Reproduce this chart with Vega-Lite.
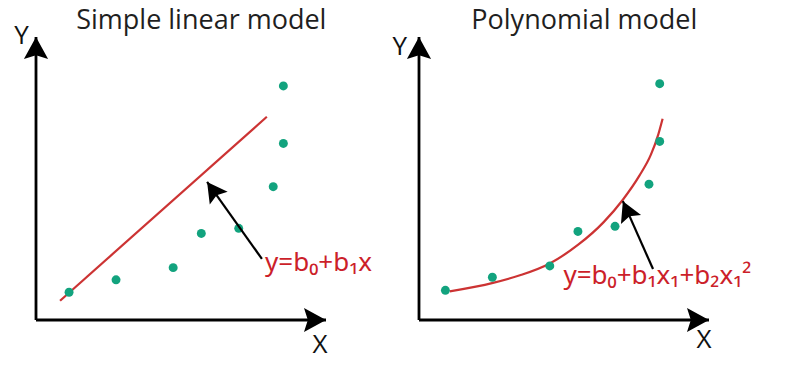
{
  "$schema": "https://vega.github.io/schema/vega-lite/v6.json",
  "padding": 0,
  "background": "white",
  "spacing": 0,
  "config": {"view": {"stroke": null}},
  "data": {
    "values": [
      {"model": "Simple linear model", "kind": "title", "x": 5.7, "y": 10.30},
      {"model": "Simple linear model", "kind": "axis", "part": "y", "x": 0, "y": 0, "x2": 0, "y2": 10},
      {"model": "Simple linear model", "kind": "axis", "part": "x", "x": 0, "y": 0, "x2": 10, "y2": 0},
      {"model": "Simple linear model", "kind": "axis-label", "x": -0.5, "y": 10.04, "label": "Y"},
      {"model": "Simple linear model", "kind": "axis-label", "x": 9.79, "y": -0.88, "label": "X"},
      {"model": "Simple linear model", "kind": "point", "x": 1.14, "y": 0.98},
      {"model": "Simple linear model", "kind": "point", "x": 2.76, "y": 1.42},
      {"model": "Simple linear model", "kind": "point", "x": 4.73, "y": 1.85},
      {"model": "Simple linear model", "kind": "point", "x": 5.70, "y": 3.06},
      {"model": "Simple linear model", "kind": "point", "x": 6.99, "y": 3.24},
      {"model": "Simple linear model", "kind": "point", "x": 8.18, "y": 4.71},
      {"model": "Simple linear model", "kind": "point", "x": 8.53, "y": 6.24},
      {"model": "Simple linear model", "kind": "point", "x": 8.53, "y": 8.27},
      {"model": "Simple linear model", "kind": "fit", "x": 0.83, "y": 0.68},
      {"model": "Simple linear model", "kind": "fit", "x": 7.96, "y": 7.18},
      {"model": "Simple linear model", "kind": "pointer", "x": 7.79, "y": 2.16, "x2": 5.90, "y2": 4.88},
      {"model": "Simple linear model", "kind": "equation", "x": 7.90, "y": 1.74, "label": "y=b₀+b₁x"},

      {"model": "Polynomial model", "kind": "title", "x": 5.7, "y": 10.30},
      {"model": "Polynomial model", "kind": "axis", "part": "y", "x": 0, "y": 0, "x2": 0, "y2": 10},
      {"model": "Polynomial model", "kind": "axis", "part": "x", "x": 0, "y": 0, "x2": 10, "y2": 0},
      {"model": "Polynomial model", "kind": "axis-label", "x": -0.66, "y": 9.65, "label": "Y"},
      {"model": "Polynomial model", "kind": "axis-label", "x": 9.83, "y": -0.71, "label": "X"},
      {"model": "Polynomial model", "kind": "point", "x": 0.91, "y": 1.05},
      {"model": "Polynomial model", "kind": "point", "x": 2.53, "y": 1.51},
      {"model": "Polynomial model", "kind": "point", "x": 4.51, "y": 1.91},
      {"model": "Polynomial model", "kind": "point", "x": 5.48, "y": 3.13},
      {"model": "Polynomial model", "kind": "point", "x": 6.76, "y": 3.31},
      {"model": "Polynomial model", "kind": "point", "x": 7.93, "y": 4.80},
      {"model": "Polynomial model", "kind": "point", "x": 8.30, "y": 6.31},
      {"model": "Polynomial model", "kind": "point", "x": 8.30, "y": 8.35},
      {"model": "Polynomial model", "kind": "fit", "x": 1.06, "y": 1.01},
      {"model": "Polynomial model", "kind": "fit", "x": 2.55, "y": 1.31},
      {"model": "Polynomial model", "kind": "fit", "x": 3.48, "y": 1.58},
      {"model": "Polynomial model", "kind": "fit", "x": 4.51, "y": 2.00},
      {"model": "Polynomial model", "kind": "fit", "x": 5.49, "y": 2.66},
      {"model": "Polynomial model", "kind": "fit", "x": 6.36, "y": 3.45},
      {"model": "Polynomial model", "kind": "fit", "x": 7.03, "y": 4.25},
      {"model": "Polynomial model", "kind": "fit", "x": 7.60, "y": 5.10},
      {"model": "Polynomial model", "kind": "fit", "x": 8.00, "y": 5.85},
      {"model": "Polynomial model", "kind": "fit", "x": 8.25, "y": 6.55},
      {"model": "Polynomial model", "kind": "fit", "x": 8.40, "y": 7.11},
      {"model": "Polynomial model", "kind": "pointer", "x": 8.07, "y": 1.80, "x2": 7.03, "y2": 4.20},
      {"model": "Polynomial model", "kind": "equation", "x": 4.98, "y": 1.27, "label": "y=b₀+b₁x₁+b₂x₁²"}
    ]
  },
  "facet": {
    "column": {
      "field": "model",
      "type": "nominal",
      "sort": ["Simple linear model", "Polynomial model"],
      "header": null
    }
  },
  "spec": {
    "width": 383,
    "height": 366,
    "layer": [
      {
        "transform": [{"filter": "datum.kind === 'title'"}],
        "mark": {"type": "text", "font": "Open Sans", "fontSize": 27, "color": "#1f1f1f",
                 "align": "center", "baseline": "alphabetic"},
        "encoding": {
          "x": {"field": "x", "type": "quantitative", "axis": null,
                "scale": {"domain": [-1.2414, 11.9655], "nice": false, "zero": false}},
          "y": {"field": "y", "type": "quantitative", "axis": null,
                "scale": {"domain": [-1.625, 11.307], "nice": false, "zero": false}},
          "text": {"field": "model"}
        }
      },
      {
        "transform": [{"filter": "datum.kind === 'fit'"}],
        "mark": {"type": "line", "color": "#cc3333", "strokeWidth": 2.2, "interpolate": "monotone"},
        "encoding": {
          "x": {"field": "x", "type": "quantitative"},
          "y": {"field": "y", "type": "quantitative"},
          "order": {"field": "x", "type": "quantitative"}
        }
      },
      {
        "transform": [{"filter": "datum.kind === 'point'"}],
        "mark": {"type": "circle", "color": "#12a37e", "size": 80, "opacity": 1},
        "encoding": {
          "x": {"field": "x", "type": "quantitative"},
          "y": {"field": "y", "type": "quantitative"}
        }
      },
      {
        "transform": [{"filter": "datum.kind === 'axis' || datum.kind === 'pointer'"}],
        "mark": {"type": "rule", "color": "#000000"},
        "encoding": {
          "x": {"field": "x", "type": "quantitative"},
          "y": {"field": "y", "type": "quantitative"},
          "x2": {"field": "x2"},
          "y2": {"field": "y2"},
          "strokeWidth": {"field": "kind", "type": "nominal", "legend": null,
                          "scale": {"domain": ["axis", "pointer"], "range": [2.8, 2.2]}}
        }
      },
      {
        "transform": [{"filter": "datum.kind === 'axis' && datum.part === 'y'"}],
        "mark": {"type": "point", "shape": "M0,0L-1.1,2L0,1.65L1.1,2Z", "filled": true,
                 "color": "#000000", "opacity": 1, "size": 484, "angle": 0, "strokeWidth": 0},
        "encoding": {"x": {"field": "x2", "type": "quantitative"}, "y": {"field": "y2", "type": "quantitative"}}
      },
      {
        "transform": [{"filter": "datum.kind === 'axis' && datum.part === 'x'"}],
        "mark": {"type": "point", "shape": "M0,0L-1.1,2L0,1.65L1.1,2Z", "filled": true,
                 "color": "#000000", "opacity": 1, "size": 484, "angle": 90, "strokeWidth": 0},
        "encoding": {"x": {"field": "x2", "type": "quantitative"}, "y": {"field": "y2", "type": "quantitative"}}
      },
      {
        "transform": [{"filter": "datum.kind === 'pointer' && datum.model === 'Simple linear model'"}],
        "mark": {"type": "point", "shape": "M0,0L-1.1,2L0,1.65L1.1,2Z", "filled": true,
                 "color": "#000000", "opacity": 1, "size": 400, "angle": -35.5, "strokeWidth": 0},
        "encoding": {"x": {"field": "x2", "type": "quantitative"}, "y": {"field": "y2", "type": "quantitative"}}
      },
      {
        "transform": [{"filter": "datum.kind === 'pointer' && datum.model === 'Polynomial model'"}],
        "mark": {"type": "point", "shape": "M0,0L-1.1,2L0,1.65L1.1,2Z", "filled": true,
                 "color": "#000000", "opacity": 1, "size": 400, "angle": -24, "strokeWidth": 0},
        "encoding": {"x": {"field": "x2", "type": "quantitative"}, "y": {"field": "y2", "type": "quantitative"}}
      },
      {
        "transform": [{"filter": "datum.kind === 'axis-label'"}],
        "mark": {"type": "text", "font": "Open Sans", "fontSize": 26, "color": "#111111",
                 "align": "center", "baseline": "middle"},
        "encoding": {
          "x": {"field": "x", "type": "quantitative"},
          "y": {"field": "y", "type": "quantitative"},
          "text": {"field": "label"}
        }
      },
      {
        "transform": [{"filter": "datum.kind === 'equation'"}],
        "mark": {"type": "text", "font": "Noto Sans", "fontSize": 26, "color": "#cc1f2a",
                 "align": "left", "baseline": "alphabetic"},
        "encoding": {
          "x": {"field": "x", "type": "quantitative"},
          "y": {"field": "y", "type": "quantitative"},
          "text": {"field": "label"}
        }
      }
    ]
  }
}
